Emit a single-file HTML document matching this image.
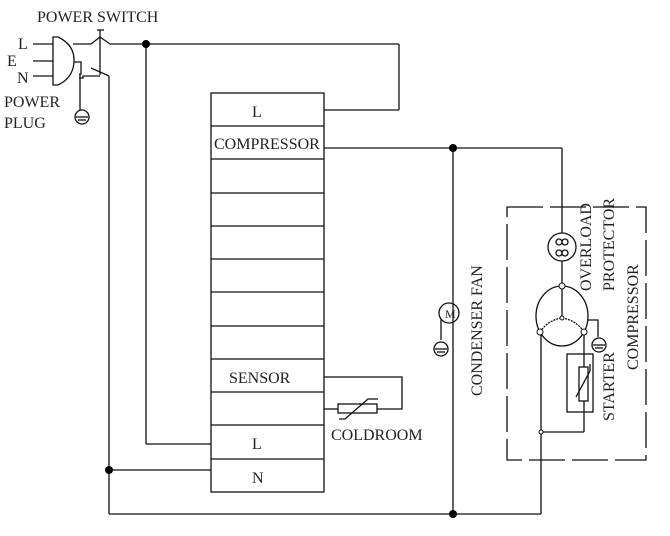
<!DOCTYPE html>
<html><head><meta charset="utf-8"><style>
body{margin:0;background:#fff}
svg text{font-family:"Liberation Serif",serif;fill:#222;font-size:16px}
</style></head><body>
<svg width="670" height="531" viewBox="0 0 670 531" xmlns="http://www.w3.org/2000/svg">
<g stroke="#111" stroke-width="1.3" fill="none">
<rect x="211" y="93" width="113" height="399"/>
<line x1="211" y1="126" x2="324" y2="126"/><line x1="211" y1="159" x2="324" y2="159"/>
<line x1="211" y1="193" x2="324" y2="193"/><line x1="211" y1="226" x2="324" y2="226"/>
<line x1="211" y1="259" x2="324" y2="259"/><line x1="211" y1="292" x2="324" y2="292"/>
<line x1="211" y1="326" x2="324" y2="326"/><line x1="211" y1="359" x2="324" y2="359"/>
<line x1="211" y1="392" x2="324" y2="392"/><line x1="211" y1="425" x2="324" y2="425"/>
<line x1="211" y1="459" x2="324" y2="459"/>
<line x1="33" y1="44" x2="53" y2="44"/><line x1="33" y1="61" x2="53" y2="61"/><line x1="33" y1="76" x2="53" y2="76"/>
<path d="M53 37 L58 37 Q75 45 74 62 Q73 78 58 85 L53 85 Z"/>
<path d="M74 62 L81 62 L81 74 L79 74 M79 78 L83 78 L83 76 L100 76"/>
<line x1="80" y1="74" x2="80" y2="110"/>
<circle cx="82" cy="117" r="7"/><line x1="76" y1="117" x2="88" y2="117"/><line x1="78" y1="120" x2="86" y2="120"/>
<line x1="73" y1="44" x2="91" y2="44"/>
<line x1="91" y1="44" x2="100" y2="37"/><line x1="100" y1="37" x2="110" y2="44"/>
<line x1="100" y1="30" x2="100" y2="75"/><line x1="97" y1="30" x2="104" y2="30"/>
<line x1="91" y1="68" x2="109" y2="76"/>
<line x1="110" y1="44" x2="399" y2="44"/>
<line x1="399" y1="44" x2="399" y2="110"/><line x1="399" y1="110" x2="324" y2="110"/>
<line x1="146" y1="44" x2="146" y2="444"/><line x1="146" y1="444" x2="211" y2="444"/>
<line x1="109" y1="76" x2="109" y2="514"/><line x1="109" y1="470" x2="211" y2="470"/>
<line x1="109" y1="514" x2="541" y2="514"/>
<line x1="324" y1="148" x2="562" y2="148"/>
<line x1="453" y1="148" x2="453" y2="514"/>
<circle cx="449" cy="313" r="10"/>
<line x1="441" y1="319" x2="441" y2="340"/>
<circle cx="441" cy="349" r="7"/><line x1="435" y1="349" x2="447" y2="349"/><line x1="437" y1="352" x2="445" y2="352"/>
<path d="M324 377 L402 377 L402 409 L377 409"/>
<rect x="338" y="404" width="39" height="9"/>
<line x1="324" y1="409" x2="338" y2="409"/>
<path d="M339 419 L345 419 L368 399 L378 399"/>
<line x1="562" y1="148" x2="562" y2="286"/>
<rect x="507" y="207" width="139" height="253" stroke-dasharray="36,7"/>
<circle cx="562" cy="247" r="14" fill="#fff"/>
<circle cx="559" cy="242" r="3"/><circle cx="565" cy="242" r="3"/><circle cx="559" cy="253" r="3"/><circle cx="565" cy="253" r="3"/>
<ellipse cx="562" cy="316" rx="26" ry="30"/>
<line x1="562" y1="286" x2="562" y2="318"/>
<path d="M540 332 Q548 320 562 318 Q576 320 584 332" stroke-dasharray="2,1"/>
<line x1="541" y1="332" x2="541" y2="514"/>
<path d="M587 320 L598 320 L598 337"/>
<circle cx="599" cy="345" r="7"/><line x1="593" y1="345" x2="605" y2="345"/><line x1="595" y1="348" x2="603" y2="348"/>
<rect x="567" y="354" width="26" height="58"/>
<line x1="584" y1="332" x2="584" y2="367"/><line x1="584" y1="401" x2="584" y2="432"/>
<rect x="579" y="367" width="9" height="34"/>
<path d="M576 397 L590 371 L590 364"/>
<line x1="541" y1="432" x2="584" y2="432"/>
</g>
<g fill="#fff" stroke="#111" stroke-width="1">
<circle cx="562" cy="286" r="3"/><circle cx="540" cy="332" r="3"/><circle cx="584" cy="332" r="3"/><circle cx="562" cy="318" r="2"/><circle cx="541" cy="432" r="2"/>
</g>
<g fill="#000">
<circle cx="146" cy="44" r="4"/><circle cx="109" cy="470" r="4"/><circle cx="453" cy="148" r="4"/><circle cx="453" cy="514" r="4"/>
</g>
<text x="37" y="22">POWER SWITCH</text>
<text x="18" y="49">L</text><text x="7" y="66">E</text><text x="17" y="83">N</text>
<text x="4" y="107">POWER</text><text x="4" y="128">PLUG</text>
<text x="252" y="117">L</text>
<text x="214" y="149">COMPRESSOR</text>
<text x="229" y="383">SENSOR</text>
<text x="252" y="449">L</text>
<text x="252" y="483">N</text>
<text x="331" y="440">COLDROOM</text>
<text x="445" y="318" style="font-size:12px">M</text>
<text transform="translate(482,396) rotate(-90)">CONDENSER FAN</text>
<text transform="translate(591,291) rotate(-90)">OVERLOAD</text>
<text transform="translate(614,291) rotate(-90)">PROTECTOR</text>
<text transform="translate(638,370) rotate(-90)">COMPRESSOR</text>
<text transform="translate(614,421) rotate(-90)">STARTER</text>
</svg>
</body></html>
